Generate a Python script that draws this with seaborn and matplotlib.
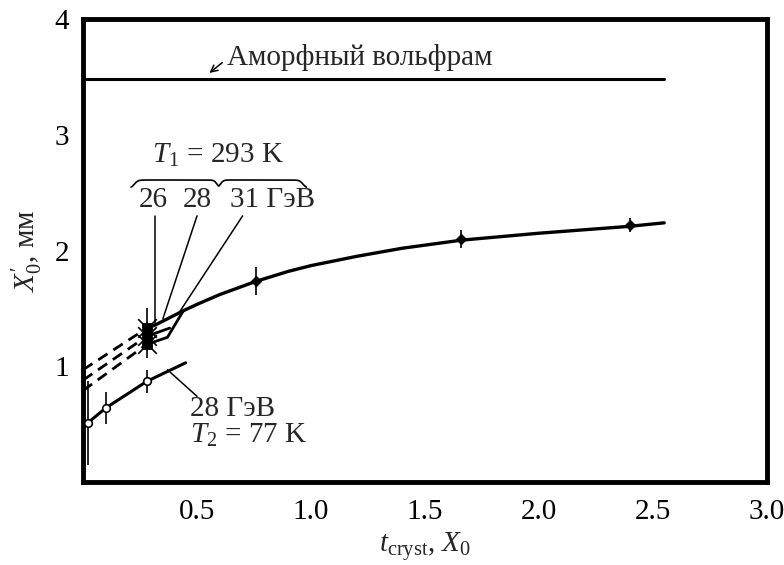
import matplotlib
matplotlib.use("Agg")
import matplotlib.pyplot as plt
import seaborn as sns
import pandas as pd
import numpy as np

sns.set_theme(style="white")
plt.rcParams['font.family'] = ['Liberation Serif', 'DejaVu Serif']
plt.rcParams['mathtext.fontset'] = 'custom'
plt.rcParams['mathtext.rm'] = 'Liberation Serif'
plt.rcParams['mathtext.it'] = 'Liberation Serif:italic'

# ---- data ----
# T1 = 293 K, measured points (thick crystals)
pts_x = [0.76, 1.66, 2.40]
pts_y = [1.74, 2.10, 2.22]
pts_err = [0.12, 0.08, 0.06]

# points at t ~ 0.28 X0 for 26, 28, 31 GeV
thin_x = [0.28, 0.28, 0.28]
thin_y = [1.33, 1.26, 1.19]
thin_err = [0.17, 0.12, 0.12]

# upper solid curve (T1)
curve1_x = [0.31, 0.38, 0.44, 0.50, 0.60, 0.76, 0.90, 1.00, 1.20, 1.40, 1.66, 2.00, 2.40, 2.55]
curve1_y = [1.35, 1.42, 1.48, 1.535, 1.62, 1.735, 1.82, 1.87, 1.95, 2.02, 2.09, 2.15, 2.21, 2.24]

# dashed extrapolations for 26, 28, 31 GeV
dash_x = [0.0, 0.28]
dash26_y = [0.97, 1.33]
dash28_y = [0.88, 1.26]
dash31_y = [0.79, 1.19]

# short solid segments
seg26_x = [0.28, 0.32]
seg26_y = [1.33, 1.36]
seg28_x = [0.28, 0.38]
seg28_y = [1.26, 1.33]
seg31_x = [0.28, 0.37, 0.44]
seg31_y = [1.19, 1.25, 1.48]

# T2 = 77 K, 28 GeV
cold_x = [0.02, 0.10, 0.28]
cold_y = [0.51, 0.64, 0.87]
cold_err = [0.36, 0.14, 0.10]
curve2_x = [0.0, 0.02, 0.10, 0.28, 0.45]
curve2_y = [0.47, 0.51, 0.64, 0.87, 1.03]

# amorphous tungsten level
amorph_x = [0.0, 2.55]
amorph_y = [3.48, 3.48]

xticks = [0.5, 1.0, 1.5, 2.0, 2.5, 3.0]
xticklabels = ["0.5", "1.0", "1.5", "2.0", "2.5", "3.0"]
yticks = [1, 2, 3, 4]
yticklabels = ["1", "2", "3", "4"]

fig = plt.figure(figsize=(7.84, 5.65), dpi=100)
ax = fig.add_axes([0.106, 0.147, 0.872, 0.819])

k = dict(color="black", ax=ax, legend=False)
sns.lineplot(x=amorph_x, y=amorph_y, lw=2.2, **k)
sns.lineplot(x=curve1_x, y=curve1_y, lw=2.4, **k)
sns.lineplot(x=curve2_x, y=curve2_y, lw=2.2, **k)
for yy in (dash26_y, dash28_y, dash31_y):
    sns.lineplot(x=dash_x, y=yy, lw=2.0, **k)
for line in ax.lines[-3:]:
    line.set_linestyle((0, (4, 2.5)))
sns.lineplot(x=seg26_x, y=seg26_y, lw=2.0, **k)
sns.lineplot(x=seg28_x, y=seg28_y, lw=2.0, **k)
sns.lineplot(x=seg31_x, y=seg31_y, lw=2.0, **k)

# error bars
ax.errorbar(pts_x, pts_y, yerr=pts_err, fmt="none", ecolor="black", elinewidth=1.2)
ax.errorbar(thin_x, thin_y, yerr=thin_err, fmt="none", ecolor="black", elinewidth=1.2)
ax.errorbar(cold_x, cold_y, yerr=cold_err, fmt="none", ecolor="black", elinewidth=1.2)

sns.scatterplot(x=pts_x, y=pts_y, marker="D", s=30, color="black", edgecolor="black", ax=ax, zorder=5)
sns.scatterplot(x=thin_x, y=thin_y, marker="s", s=55, color="black", edgecolor="black", ax=ax, zorder=5)
sns.scatterplot(x=thin_x, y=thin_y, marker="x", s=180, color="black", linewidth=1.2, ax=ax, zorder=5)
sns.scatterplot(x=cold_x, y=cold_y, marker="o", s=30, color="white", edgecolor="black", linewidth=1.2, ax=ax, zorder=6)

# pointer lines
ax.plot([0.316, 0.316], [2.30, 1.37], color="black", lw=1.1)
ax.plot([0.50, 0.35], [2.30, 1.41], color="black", lw=1.1)
ax.plot([0.70, 0.42], [2.30, 1.46], color="black", lw=1.1)
ax.plot([0.37, 0.50], [0.97, 0.74], color="black", lw=1.1)

# texts
fs = 21
ax.text(0.63, 3.67, "Аморфный вольфрам", fontsize=fs, va="center", ha="left")
ax.annotate("", xy=(0.545, 3.52), xytext=(0.62, 3.64),
            arrowprops=dict(arrowstyle="->", color="black", lw=1.1))
ax.text(0.59, 2.82, r"$T_1$ = 293 K", fontsize=fs, ha="center", va="center")
ax.text(0.31, 2.44, "26", fontsize=fs, ha="center", va="center")
ax.text(0.50, 2.44, "28", fontsize=fs, ha="center", va="center")
ax.text(0.83, 2.44, "31 ГэВ", fontsize=fs, ha="center", va="center")
ax.text(0.47, 0.63, "28 ГэВ", fontsize=fs, ha="left", va="center")
ax.text(0.47, 0.40, r"$T_2$ = 77 K", fontsize=fs, ha="left", va="center")

# curly brace
bx = np.linspace(0.21, 0.98, 400)
mid = 0.595
w = 0.77 / 2
u = np.abs(bx - mid) / w
by = 2.54 + 0.07 * (1 / (1 + np.exp(-(u - 0.02) * 60))) - 0.07 * (1 / (1 + np.exp(-(u - 0.96) * 50)))
ax.plot(bx, by, color="black", lw=1.2)

ax.set_xlim(0, 3.0)
ax.set_ylim(0, 4)
ax.set_xticks(xticks)
ax.set_xticklabels(xticklabels, fontsize=fs)
ax.set_yticks(yticks)
ax.set_yticklabels(yticklabels, fontsize=fs)
ax.tick_params(direction="in", length=5, width=1.5, pad=10, colors="black")
ax.tick_params(axis="x", pad=12)
for s in ax.spines.values():
    s.set_linewidth(3.5)
    s.set_color("black")
ax.set_xlabel(r"$t_{\rm cryst}$, $X_0$", fontsize=fs, labelpad=4)
ax.set_ylabel(r"$X_0^{\prime}$, мм", fontsize=fs, labelpad=7)

fig.savefig("out.png", dpi=100)
